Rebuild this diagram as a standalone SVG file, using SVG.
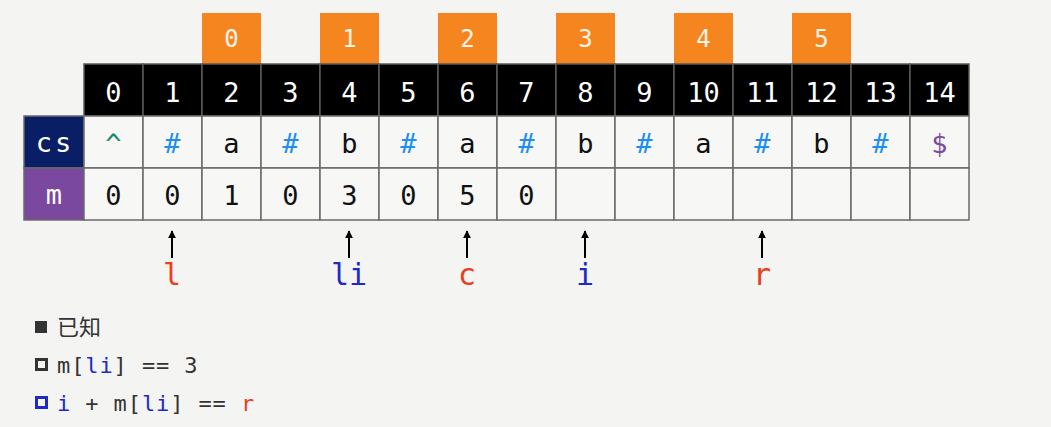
<svg xmlns="http://www.w3.org/2000/svg" width="1051" height="427" viewBox="0 0 1051 427">
<defs>
<style>
.bg{fill:#f4f4f2}
.cell{fill:#f7f7f5;stroke:#6a6a6a;stroke-width:1.5}
.hcell{fill:#000;stroke:#5a5a5a;stroke-width:1.5}
.ob{fill:#f5861f}
.t{font-family:"DejaVu Sans Mono","Liberation Mono",monospace;font-size:27px;text-anchor:middle}
.ot{font-family:"DejaVu Sans Mono","Liberation Mono",monospace;font-size:24px;text-anchor:middle;fill:#fff3e6}
.w{fill:#fff}
.k{fill:#111}
.h{fill:#1e8ff0}
.car{fill:#1a8a66}
.dol{fill:#7b4ba0}
.lab{font-family:"DejaVu Sans Mono","Liberation Mono",monospace;font-size:30px;text-anchor:middle}
.red{fill:#e8401c}
.blue{fill:#1c2bc8}
.note{font-family:"DejaVu Sans Mono","Liberation Mono",monospace;font-size:22px;letter-spacing:0.9px;fill:#333}
.arr{stroke:#000;stroke-width:2}
</style>
<marker id="ah" viewBox="0 0 10 10" refX="9" refY="5" markerWidth="4" markerHeight="4" orient="auto" markerUnits="strokeWidth">
<path d="M0,0 L10,5 L0,10 z" fill="#000"/>
</marker>
</defs>
<rect class="bg" x="0" y="0" width="1051" height="427"/>

<g id="orange">
<rect class="ob" x="202" y="13" width="59" height="51"/><text class="ot" x="231.5" y="47">0</text>
<rect class="ob" x="320" y="13" width="59" height="51"/><text class="ot" x="349.5" y="47">1</text>
<rect class="ob" x="438" y="13" width="59" height="51"/><text class="ot" x="467.5" y="47">2</text>
<rect class="ob" x="556" y="13" width="59" height="51"/><text class="ot" x="585.5" y="47">3</text>
<rect class="ob" x="674" y="13" width="59" height="51"/><text class="ot" x="703.5" y="47">4</text>
<rect class="ob" x="792" y="13" width="59" height="51"/><text class="ot" x="821.5" y="47">5</text>
</g>

<g id="header">
<rect class="hcell" x="84" y="64" width="59" height="52"/><text class="t w" x="113.5" y="102">0</text>
<rect class="hcell" x="143" y="64" width="59" height="52"/><text class="t w" x="172.5" y="102">1</text>
<rect class="hcell" x="202" y="64" width="59" height="52"/><text class="t w" x="231.5" y="102">2</text>
<rect class="hcell" x="261" y="64" width="59" height="52"/><text class="t w" x="290.5" y="102">3</text>
<rect class="hcell" x="320" y="64" width="59" height="52"/><text class="t w" x="349.5" y="102">4</text>
<rect class="hcell" x="379" y="64" width="59" height="52"/><text class="t w" x="408.5" y="102">5</text>
<rect class="hcell" x="438" y="64" width="59" height="52"/><text class="t w" x="467.5" y="102">6</text>
<rect class="hcell" x="497" y="64" width="59" height="52"/><text class="t w" x="526.5" y="102">7</text>
<rect class="hcell" x="556" y="64" width="59" height="52"/><text class="t w" x="585.5" y="102">8</text>
<rect class="hcell" x="615" y="64" width="59" height="52"/><text class="t w" x="644.5" y="102">9</text>
<rect class="hcell" x="674" y="64" width="59" height="52"/><text class="t w" x="703.5" y="102">10</text>
<rect class="hcell" x="733" y="64" width="59" height="52"/><text class="t w" x="762.5" y="102">11</text>
<rect class="hcell" x="792" y="64" width="59" height="52"/><text class="t w" x="821.5" y="102">12</text>
<rect class="hcell" x="851" y="64" width="59" height="52"/><text class="t w" x="880.5" y="102">13</text>
<rect class="hcell" x="910" y="64" width="59" height="52"/><text class="t w" x="939.5" y="102">14</text>
</g>

<g id="cs-row">
<rect x="24" y="116" width="60" height="52" fill="#0a1e66" stroke="#6a6a6a" stroke-width="1.5"/>
<text class="t w" x="55" y="152" letter-spacing="3">cs</text>
<rect class="cell" x="84" y="116" width="59" height="52"/><text class="t car" x="113.5" y="153">^</text>
<rect class="cell" x="143" y="116" width="59" height="52"/><text class="t h" x="172.5" y="153">#</text>
<rect class="cell" x="202" y="116" width="59" height="52"/><text class="t k" x="231.5" y="153">a</text>
<rect class="cell" x="261" y="116" width="59" height="52"/><text class="t h" x="290.5" y="153">#</text>
<rect class="cell" x="320" y="116" width="59" height="52"/><text class="t k" x="349.5" y="153">b</text>
<rect class="cell" x="379" y="116" width="59" height="52"/><text class="t h" x="408.5" y="153">#</text>
<rect class="cell" x="438" y="116" width="59" height="52"/><text class="t k" x="467.5" y="153">a</text>
<rect class="cell" x="497" y="116" width="59" height="52"/><text class="t h" x="526.5" y="153">#</text>
<rect class="cell" x="556" y="116" width="59" height="52"/><text class="t k" x="585.5" y="153">b</text>
<rect class="cell" x="615" y="116" width="59" height="52"/><text class="t h" x="644.5" y="153">#</text>
<rect class="cell" x="674" y="116" width="59" height="52"/><text class="t k" x="703.5" y="153">a</text>
<rect class="cell" x="733" y="116" width="59" height="52"/><text class="t h" x="762.5" y="153">#</text>
<rect class="cell" x="792" y="116" width="59" height="52"/><text class="t k" x="821.5" y="153">b</text>
<rect class="cell" x="851" y="116" width="59" height="52"/><text class="t h" x="880.5" y="153">#</text>
<rect class="cell" x="910" y="116" width="59" height="52"/><text class="t dol" x="939.5" y="153">$</text>
</g>

<g id="m-row">
<rect x="24" y="168" width="60" height="52" fill="#7b48a0" stroke="#6a6a6a" stroke-width="1.5"/>
<text class="t w" x="54" y="204">m</text>
<rect class="cell" x="84" y="168" width="59" height="52"/><text class="t k" x="113.5" y="205">0</text>
<rect class="cell" x="143" y="168" width="59" height="52"/><text class="t k" x="172.5" y="205">0</text>
<rect class="cell" x="202" y="168" width="59" height="52"/><text class="t k" x="231.5" y="205">1</text>
<rect class="cell" x="261" y="168" width="59" height="52"/><text class="t k" x="290.5" y="205">0</text>
<rect class="cell" x="320" y="168" width="59" height="52"/><text class="t k" x="349.5" y="205">3</text>
<rect class="cell" x="379" y="168" width="59" height="52"/><text class="t k" x="408.5" y="205">0</text>
<rect class="cell" x="438" y="168" width="59" height="52"/><text class="t k" x="467.5" y="205">5</text>
<rect class="cell" x="497" y="168" width="59" height="52"/><text class="t k" x="526.5" y="205">0</text>
<rect class="cell" x="556" y="168" width="59" height="52"/>
<rect class="cell" x="615" y="168" width="59" height="52"/>
<rect class="cell" x="674" y="168" width="59" height="52"/>
<rect class="cell" x="733" y="168" width="59" height="52"/>
<rect class="cell" x="792" y="168" width="59" height="52"/>
<rect class="cell" x="851" y="168" width="59" height="52"/>
<rect class="cell" x="910" y="168" width="59" height="52"/>
</g>

<g id="connectors">
<line class="arr" x1="172" y1="258" x2="172" y2="231" marker-end="url(#ah)"/>
<line class="arr" x1="349" y1="258" x2="349" y2="231" marker-end="url(#ah)"/>
<line class="arr" x1="467" y1="258" x2="467" y2="231" marker-end="url(#ah)"/>
<line class="arr" x1="585" y1="258" x2="585" y2="231" marker-end="url(#ah)"/>
<line class="arr" x1="762" y1="258" x2="762" y2="231" marker-end="url(#ah)"/>
</g>

<g id="pointer-labels">
<text class="lab red" x="172" y="285">l</text>
<text class="lab blue" x="349" y="285">li</text>
<text class="lab red" x="467" y="285">c</text>
<text class="lab blue" x="585" y="285">i</text>
<text class="lab red" x="762" y="285">r</text>
</g>

<g id="notes">
<rect x="35" y="321" width="12" height="12" fill="#333"/>
<text x="57" y="335" font-family="'Noto Sans CJK SC','Noto Sans',sans-serif" font-size="22" fill="#333">已知</text>
<rect x="36.5" y="359.5" width="10" height="10" fill="none" stroke="#333" stroke-width="3"/>
<text class="note" x="57" y="373">m[<tspan class="blue">li</tspan>] == 3</text>
<rect x="36.5" y="397.5" width="10" height="10" fill="none" stroke="#1c2bc8" stroke-width="3"/>
<text class="note" x="57" y="411"><tspan class="blue">i</tspan> + m[<tspan class="blue">li</tspan>] == <tspan class="red">r</tspan></text>
</g>
</svg>
